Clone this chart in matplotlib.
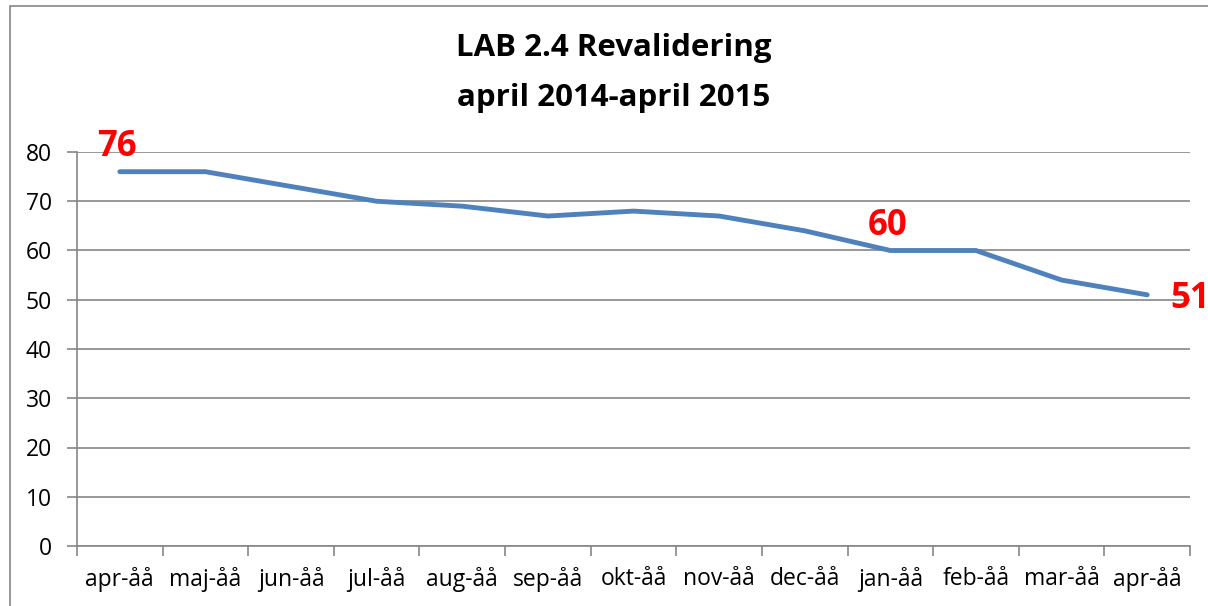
import matplotlib.pyplot as plt
from matplotlib.patches import Rectangle
from matplotlib.ticker import FixedLocator

months = ["apr-åå", "maj-åå", "jun-åå", "jul-åå", "aug-åå", "sep-åå", "okt-åå",
          "nov-åå", "dec-åå", "jan-åå", "feb-åå", "mar-åå", "apr-åå"]
values = [76, 76, 73, 70, 69, 67, 68, 67, 64, 60, 60, 54, 51]
marked = [0, 9, 12]

plt.rcParams['font.family'] = ['Open Sans', 'DejaVu Sans']

fig = plt.figure(figsize=(12.08, 6.06), dpi=100)
fig.patches.append(Rectangle((10 / 1208, -0.1), 1.2, 1 - 6 / 606 + 0.1, transform=fig.transFigure,
                             fill=False, edgecolor='#868686', linewidth=1.2))
ax = fig.add_axes([77 / 1208, 1 - 546 / 606, (1190 - 77) / 1208, (546 - 152) / 606])

x = list(range(len(months)))
ax.plot(x, values, color='#4F81BD', linewidth=3.5, solid_capstyle='round', zorder=3)

for i in marked:
    if i == len(months) - 1:
        ax.annotate(str(values[i]), (x[i], values[i]), xytext=(17, -3), textcoords='offset points',
                    ha='left', va='center', color='#FF0000', fontsize=25, fontweight='bold',
                    annotation_clip=False)
    else:
        ax.annotate(str(values[i]), (x[i], values[i]), xytext=(-2, 5), textcoords='offset points',
                    ha='center', va='bottom', color='#FF0000', fontsize=25, fontweight='bold',
                    annotation_clip=False)

ax.set_xlim(-0.5, len(months) - 0.5)
ax.set_ylim(0, 80)
ax.set_yticks(range(0, 81, 10))
ax.set_xticks(x)
ax.set_xticklabels(months)
ax.xaxis.set_minor_locator(FixedLocator([i - 0.5 for i in range(len(months) + 1)]))
ax.tick_params(axis='x', which='major', length=0, pad=15, labelsize=16.5)
ax.tick_params(axis='x', which='minor', length=7, width=1.2, color='#868686')
ax.tick_params(axis='y', length=7, width=1.2, color='#868686', pad=11, labelsize=16.5)

ax.grid(axis='y', color='#868686', linewidth=1.2)
ax.set_axisbelow(True)
for s in ['top', 'right']:
    ax.spines[s].set_visible(False)
for s in ['left', 'bottom']:
    ax.spines[s].set_color('#868686')
    ax.spines[s].set_linewidth(1.2)

fig.text(614 / 1208, 1 - 48 / 606, "LAB 2.4 Revalidering", ha='center', va='center',
         fontsize=22.5, fontweight='bold')
fig.text(614 / 1208, 1 - 98 / 606, "april 2014-april 2015", ha='center', va='center',
         fontsize=22.5, fontweight='bold')

fig.savefig("out.png", dpi=100)
